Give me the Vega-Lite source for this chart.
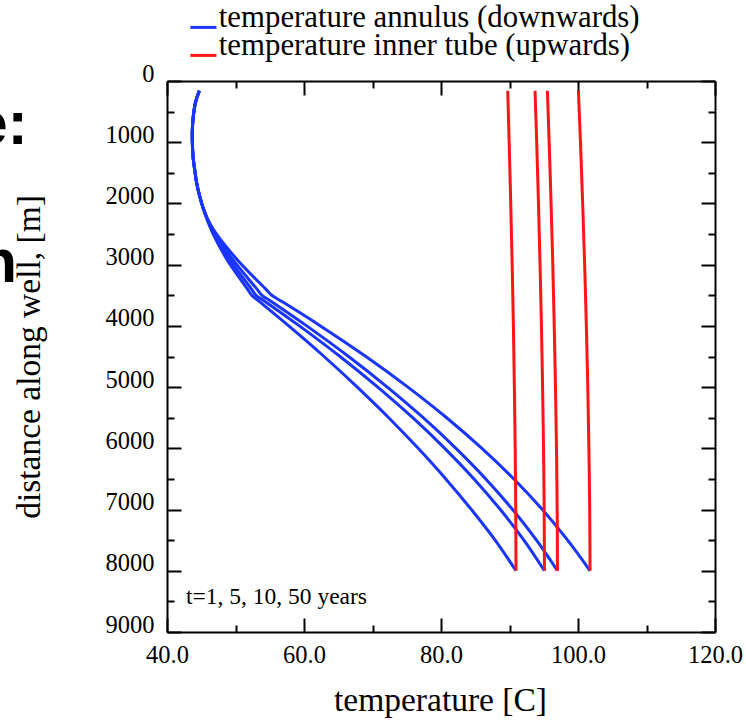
{
  "$schema": "https://vega.github.io/schema/vega-lite/v6.json",
  "width": 548,
  "height": 551,
  "autosize": {"type": "none"},
  "padding": {"left": 167, "top": 81, "right": 31, "bottom": 92},
  "background": "white",
  "config": {"view": {"stroke": null}},
  "datasets": {
    "annulus": [
      {"t": 1, "d": 160, "T": 44.72}, {"t": 1, "d": 360, "T": 44.14}, {"t": 1, "d": 575, "T": 43.84}, {"t": 1, "d": 790, "T": 43.70}, {"t": 1, "d": 1010, "T": 43.70}, {"t": 1, "d": 1230, "T": 43.80}, {"t": 1, "d": 1445, "T": 44.04}, {"t": 1, "d": 1665, "T": 44.33}, {"t": 1, "d": 1880, "T": 44.77}, {"t": 1, "d": 2100, "T": 45.35}, {"t": 1, "d": 2315, "T": 46.03},
      {"t": 1, "d": 2480, "T": 46.65}, {"t": 1, "d": 2910, "T": 48.72}, {"t": 1, "d": 3400, "T": 51.75}, {"t": 1, "d": 3500, "T": 52.37}, {"t": 1, "d": 3600, "T": 53.47}, {"t": 1, "d": 4000, "T": 57.78}, {"t": 1, "d": 4500, "T": 62.93}, {"t": 1, "d": 5000, "T": 67.78}, {"t": 1, "d": 5500, "T": 72.37}, {"t": 1, "d": 6000, "T": 76.67}, {"t": 1, "d": 6500, "T": 80.70}, {"t": 1, "d": 7000, "T": 84.43}, {"t": 1, "d": 7500, "T": 87.90}, {"t": 1, "d": 8000, "T": 90.95},
      {"t": 5, "d": 160, "T": 44.72}, {"t": 5, "d": 360, "T": 44.14}, {"t": 5, "d": 575, "T": 43.84}, {"t": 5, "d": 790, "T": 43.70}, {"t": 5, "d": 1010, "T": 43.70}, {"t": 5, "d": 1230, "T": 43.80}, {"t": 5, "d": 1445, "T": 44.04}, {"t": 5, "d": 1665, "T": 44.33}, {"t": 5, "d": 1880, "T": 44.77}, {"t": 5, "d": 2100, "T": 45.35}, {"t": 5, "d": 2315, "T": 46.08},
      {"t": 5, "d": 2480, "T": 46.8}, {"t": 5, "d": 2910, "T": 49.12}, {"t": 5, "d": 3400, "T": 52.34}, {"t": 5, "d": 3500, "T": 52.99}, {"t": 5, "d": 3600, "T": 54.30}, {"t": 5, "d": 4000, "T": 59.33}, {"t": 5, "d": 4500, "T": 65.26}, {"t": 5, "d": 5000, "T": 70.77}, {"t": 5, "d": 5500, "T": 75.87}, {"t": 5, "d": 6000, "T": 80.55}, {"t": 5, "d": 6500, "T": 84.82}, {"t": 5, "d": 7000, "T": 88.66}, {"t": 5, "d": 7500, "T": 92.10}, {"t": 5, "d": 8000, "T": 95.1},
      {"t": 10, "d": 160, "T": 44.72}, {"t": 10, "d": 360, "T": 44.14}, {"t": 10, "d": 575, "T": 43.84}, {"t": 10, "d": 790, "T": 43.70}, {"t": 10, "d": 1010, "T": 43.70}, {"t": 10, "d": 1230, "T": 43.80}, {"t": 10, "d": 1445, "T": 44.04}, {"t": 10, "d": 1665, "T": 44.33}, {"t": 10, "d": 1880, "T": 44.77}, {"t": 10, "d": 2100, "T": 45.35}, {"t": 10, "d": 2315, "T": 46.14},
      {"t": 10, "d": 2480, "T": 46.95}, {"t": 10, "d": 2910, "T": 49.56}, {"t": 10, "d": 3400, "T": 53.14}, {"t": 10, "d": 3500, "T": 53.87}, {"t": 10, "d": 3600, "T": 55.21}, {"t": 10, "d": 4000, "T": 60.40}, {"t": 10, "d": 4500, "T": 66.51}, {"t": 10, "d": 5000, "T": 72.16}, {"t": 10, "d": 5500, "T": 77.40}, {"t": 10, "d": 6000, "T": 82.18}, {"t": 10, "d": 6500, "T": 86.54}, {"t": 10, "d": 7000, "T": 90.45}, {"t": 10, "d": 7500, "T": 93.94}, {"t": 10, "d": 8000, "T": 97.0},
      {"t": 50, "d": 160, "T": 44.72}, {"t": 50, "d": 360, "T": 44.14}, {"t": 50, "d": 575, "T": 43.84}, {"t": 50, "d": 790, "T": 43.70}, {"t": 50, "d": 1010, "T": 43.70}, {"t": 50, "d": 1230, "T": 43.80}, {"t": 50, "d": 1445, "T": 44.04}, {"t": 50, "d": 1665, "T": 44.33}, {"t": 50, "d": 1880, "T": 44.77}, {"t": 50, "d": 2100, "T": 45.35}, {"t": 50, "d": 2315, "T": 46.2},
      {"t": 50, "d": 2480, "T": 47.1}, {"t": 50, "d": 2910, "T": 50.18}, {"t": 50, "d": 3400, "T": 54.42}, {"t": 50, "d": 3500, "T": 55.29}, {"t": 50, "d": 3600, "T": 56.75}, {"t": 50, "d": 4000, "T": 62.40}, {"t": 50, "d": 4500, "T": 69.04}, {"t": 50, "d": 5000, "T": 75.17}, {"t": 50, "d": 5500, "T": 80.82}, {"t": 50, "d": 6000, "T": 85.97}, {"t": 50, "d": 6500, "T": 90.64}, {"t": 50, "d": 7000, "T": 94.80}, {"t": 50, "d": 7500, "T": 98.48}, {"t": 50, "d": 8000, "T": 101.76}
    ],
    "tube": [
      {"t": 1, "d": 160, "T": 89.74}, {"t": 1, "d": 1000, "T": 89.95}, {"t": 1, "d": 2000, "T": 90.18}, {"t": 1, "d": 3000, "T": 90.39}, {"t": 1, "d": 4000, "T": 90.57}, {"t": 1, "d": 5000, "T": 90.71}, {"t": 1, "d": 6000, "T": 90.83}, {"t": 1, "d": 7000, "T": 90.91}, {"t": 1, "d": 8000, "T": 90.95},
      {"t": 5, "d": 160, "T": 93.73}, {"t": 5, "d": 1000, "T": 93.97}, {"t": 5, "d": 2000, "T": 94.23}, {"t": 5, "d": 3000, "T": 94.46}, {"t": 5, "d": 4000, "T": 94.66}, {"t": 5, "d": 5000, "T": 94.83}, {"t": 5, "d": 6000, "T": 94.97}, {"t": 5, "d": 7000, "T": 95.06}, {"t": 5, "d": 8000, "T": 95.1},
      {"t": 10, "d": 160, "T": 95.53}, {"t": 10, "d": 1000, "T": 95.79}, {"t": 10, "d": 2000, "T": 96.07}, {"t": 10, "d": 3000, "T": 96.32}, {"t": 10, "d": 4000, "T": 96.53}, {"t": 10, "d": 5000, "T": 96.71}, {"t": 10, "d": 6000, "T": 96.86}, {"t": 10, "d": 7000, "T": 96.96}, {"t": 10, "d": 8000, "T": 97.0},
      {"t": 50, "d": 160, "T": 100.06}, {"t": 50, "d": 1000, "T": 100.36}, {"t": 50, "d": 2000, "T": 100.68}, {"t": 50, "d": 3000, "T": 100.97}, {"t": 50, "d": 4000, "T": 101.22}, {"t": 50, "d": 5000, "T": 101.43}, {"t": 50, "d": 6000, "T": 101.59}, {"t": 50, "d": 7000, "T": 101.71}, {"t": 50, "d": 8000, "T": 101.76}
    ],
    "note": [{"label": "t=1, 5, 10, 50 years", "T": 42.77, "d": 8541}],
    "fragments": [{"label": "e:", "T": 19.7, "d": 1037}, {"label": "n", "T": 18.1, "d": 3290}]
  },
  "layer": [
    {
      "data": {"name": "annulus"},
      "transform": [{"calculate": "'temperature annulus (downwards)'", "as": "series"}],
      "mark": {"type": "line", "strokeWidth": 3, "interpolate": "catmull-rom"},
      "encoding": {
        "x": {"field": "T", "type": "quantitative", "scale": {"domain": [40, 120], "nice": false, "zero": false},
          "axis": {"orient": "bottom", "values": [40, 60, 80, 100, 120], "format": ".1f", "grid": false,
            "tickSize": -14, "tickWidth": 2, "tickColor": "#000", "domainColor": "#000", "domainWidth": 2,
            "labelFont": "Liberation Serif", "labelFontSize": 24.5, "labelColor": "#000", "labelPadding": 25, "labelFlush": false, "labelOverlap": false, "labelBaseline": "top",
            "title": "temperature [C]", "titleFont": "Liberation Serif", "titleFontSize": 33.5, "titleFontWeight": "normal", "titleColor": "#000",
            "titleX": 273, "titleY": 68, "titleBaseline": "middle", "titleAlign": "center"}},
        "y": {"field": "d", "type": "quantitative", "scale": {"domain": [0, 9000], "reverse": true, "nice": false, "zero": false},
          "axis": {"orient": "left", "values": [0, 1000, 2000, 3000, 4000, 5000, 6000, 7000, 8000, 9000], "format": "d", "grid": false,
            "tickSize": -14, "tickWidth": 2, "tickColor": "#000", "domainColor": "#000", "domainWidth": 2,
            "labelFont": "Liberation Serif", "labelFontSize": 24.5, "labelColor": "#000", "labelPadding": 27, "labelFlush": false, "labelOverlap": false, "labelBaseline": "alphabetic",
            "title": "distance along well, [m]", "titleFont": "Liberation Serif", "titleFontSize": 33.5, "titleFontWeight": "normal", "titleColor": "#000",
            "titleX": -138, "titleY": 275.5, "titleAngle": -90, "titleBaseline": "middle", "titleAlign": "center"}},
        "color": {"field": "series", "type": "nominal",
          "scale": {"domain": ["temperature annulus (downwards)", "temperature inner tube (upwards)"], "range": ["#1a35ff", "#ff1515"]},
          "legend": {"orient": "none", "legendX": 21, "legendY": -69, "title": null, "padding": 0, "symbolType": "stroke", "symbolStrokeWidth": 3, "symbolSize": 680,
            "labelFont": "Liberation Serif", "labelFontSize": 30.8, "labelColor": "#000", "labelBaseline": "alphabetic", "labelOffset": 0, "rowPadding": -4, "labelLimit": 0}},
        "detail": {"field": "t", "type": "nominal"},
        "order": {"field": "d", "type": "quantitative"}
      }
    },
    {
      "data": {"name": "tube"},
      "transform": [{"calculate": "'temperature inner tube (upwards)'", "as": "series"}],
      "mark": {"type": "line", "strokeWidth": 3, "interpolate": "catmull-rom"},
      "encoding": {
        "x": {"field": "T", "type": "quantitative", "scale": {"domain": [40, 120], "nice": false, "zero": false},
          "axis": {"orient": "top", "values": [40, 60, 80, 100, 120], "grid": false, "labels": false, "title": null,
            "tickSize": -14, "tickWidth": 2, "tickColor": "#000", "domainColor": "#000", "domainWidth": 2}},
        "y": {"field": "d", "type": "quantitative", "scale": {"domain": [0, 9000], "reverse": true, "nice": false, "zero": false},
          "axis": {"orient": "right", "values": [0, 1000, 2000, 3000, 4000, 5000, 6000, 7000, 8000, 9000], "grid": false, "labels": false, "title": null,
            "tickSize": -14, "tickWidth": 2, "tickColor": "#000", "domainColor": "#000", "domainWidth": 2}},
        "color": {"field": "series", "type": "nominal",
          "scale": {"domain": ["temperature annulus (downwards)", "temperature inner tube (upwards)"], "range": ["#1a35ff", "#ff1515"]},
          "legend": {"orient": "none", "legendX": 21, "legendY": -69, "title": null, "padding": 0, "symbolType": "stroke", "symbolStrokeWidth": 3, "symbolSize": 680,
            "labelFont": "Liberation Serif", "labelFontSize": 30.8, "labelColor": "#000", "labelBaseline": "alphabetic", "labelOffset": 0, "rowPadding": -4, "labelLimit": 0}},
        "detail": {"field": "t", "type": "nominal"},
        "order": {"field": "d", "type": "quantitative"}
      }
    },
    {
      "data": {"name": "note"},
      "mark": {"type": "text", "font": "Liberation Serif", "fontSize": 23.5, "align": "left", "baseline": "alphabetic", "color": "#000"},
      "encoding": {
        "x": {"field": "T", "type": "quantitative", "scale": {"domain": [40, 120], "nice": false, "zero": false},
          "axis": {"orient": "bottom", "values": [50, 70, 90, 110], "grid": false, "labels": false, "title": null, "domain": false,
            "tickSize": -7, "tickWidth": 2, "tickColor": "#000"}},
        "y": {"field": "d", "type": "quantitative", "scale": {"domain": [0, 9000], "reverse": true, "nice": false, "zero": false},
          "axis": {"orient": "left", "values": [500, 1500, 2500, 3500, 4500, 5500, 6500, 7500, 8500], "grid": false, "labels": false, "title": null, "domain": false,
            "tickSize": -7, "tickWidth": 2, "tickColor": "#000"}},
        "text": {"field": "label"}
      }
    },
    {
      "data": {"name": "fragments"},
      "mark": {"type": "text", "font": "Liberation Sans", "fontSize": 61, "fontWeight": "bold", "align": "right", "baseline": "alphabetic", "color": "#000"},
      "encoding": {
        "x": {"field": "T", "type": "quantitative", "scale": {"domain": [40, 120], "nice": false, "zero": false},
          "axis": {"orient": "top", "values": [50, 70, 90, 110], "grid": false, "labels": false, "title": null, "domain": false,
            "tickSize": -7, "tickWidth": 2, "tickColor": "#000"}},
        "y": {"field": "d", "type": "quantitative", "scale": {"domain": [0, 9000], "reverse": true, "nice": false, "zero": false},
          "axis": {"orient": "right", "values": [500, 1500, 2500, 3500, 4500, 5500, 6500, 7500, 8500], "grid": false, "labels": false, "title": null, "domain": false,
            "tickSize": -7, "tickWidth": 2, "tickColor": "#000"}},
        "text": {"field": "label"}
      }
    }
  ],
  "resolve": {"axis": {"x": "independent", "y": "independent"}}
}
